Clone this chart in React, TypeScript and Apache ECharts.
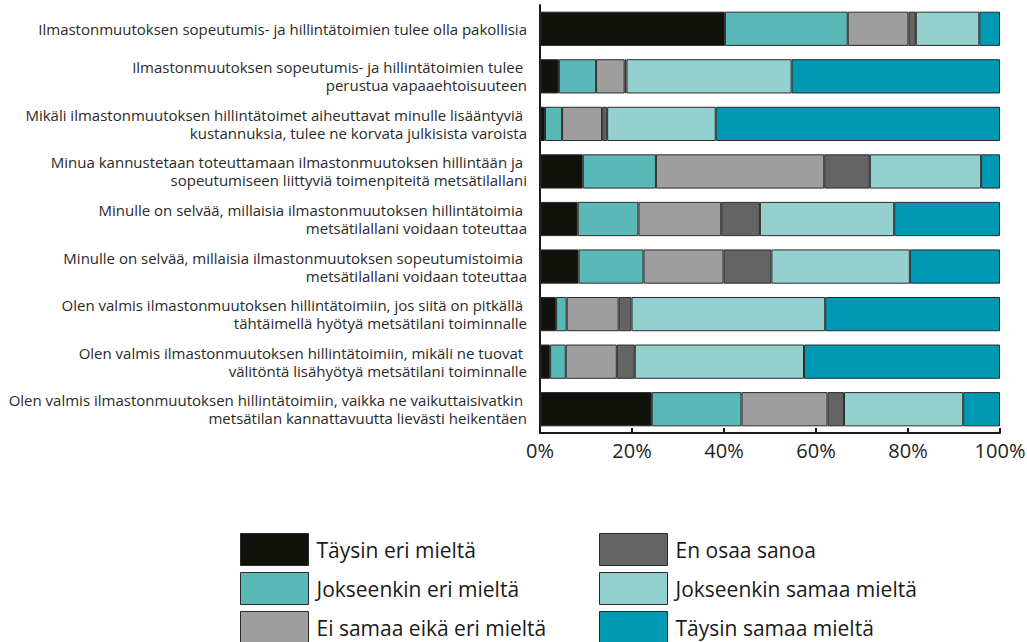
import React, { useEffect, useRef } from "react";
import * as echarts from "echarts";

const categories = [
  "Ilmastonmuutoksen sopeutumis- ja hillintätoimien tulee olla pakollisia",
  "Ilmastonmuutoksen sopeutumis- ja hillintätoimien tulee \nperustua vapaaehtoisuuteen",
  "Mikäli ilmastonmuutoksen hillintätoimet aiheuttavat minulle lisääntyviä \nkustannuksia, tulee ne korvata julkisista varoista",
  "Minua kannustetaan toteuttamaan ilmastonmuutoksen hillintään ja \nsopeutumiseen liittyviä toimenpiteitä metsätilallani",
  "Minulle on selvää, millaisia ilmastonmuutoksen hillintätoimia \nmetsätilallani voidaan toteuttaa",
  "Minulle on selvää, millaisia ilmastonmuutoksen sopeutumistoimia \nmetsätilallani voidaan toteuttaa",
  "Olen valmis ilmastonmuutoksen hillintätoimiin, jos siitä on pitkällä \ntähtäimellä hyötyä metsätilani toiminnalle",
  "Olen valmis ilmastonmuutoksen hillintätoimiin, mikäli ne tuovat \nvälitöntä lisähyötyä metsätilani toiminnalle",
  "Olen valmis ilmastonmuutoksen hillintätoimiin, vaikka ne vaikuttaisivatkin \nmetsätilan kannattavuutta lievästi heikentäen",
];

const seriesNames = [
  "Täysin eri mieltä",
  "Jokseenkin eri mieltä",
  "Ei samaa eikä eri mieltä",
  "En osaa sanoa",
  "Jokseenkin samaa mieltä",
  "Täysin samaa mieltä",
];

const taysinEri = [40.2, 4.1, 1.1, 9.3, 8.2, 8.4, 3.5, 2.2, 24.3];
const jokseenkinEri = [26.7, 8.1, 3.7, 15.9, 13.2, 14.1, 2.3, 3.4, 19.5];
const eiSamaaEikaEri = [13.2, 6.2, 8.7, 36.6, 18.0, 17.4, 11.3, 11.1, 18.7];
const enOsaaSanoa = [1.6, 0.4, 1.1, 9.9, 8.4, 10.4, 2.8, 3.9, 3.6];
const jokseenkinSamaa = [13.8, 35.9, 23.6, 24.2, 29.2, 30.1, 42.1, 36.8, 25.9];
const taysinSamaa = [4.5, 45.3, 61.8, 4.1, 23.0, 19.6, 38.0, 42.6, 8.0];

const seriesValues = [taysinEri, jokseenkinEri, eiSamaaEikaEri, enOsaaSanoa, jokseenkinSamaa, taysinSamaa];
const colors = ["#12120d", "#5bb8b8", "#9d9e9d", "#636463", "#93d0cf", "#0099b3"];

const xTicks = [0, 20, 40, 60, 80, 100];

export default function App() {
  const ref = useRef<HTMLDivElement>(null);
  useEffect(() => {
    if (!ref.current) return;
    const chart = echarts.init(ref.current, null, { renderer: "svg" });
    const font = "'Open Sans', sans-serif";
    const legendCommon = {
      orient: "vertical",
      icon: "rect",
      itemWidth: 68,
      itemHeight: 32,
      itemGap: 6,
      padding: 0,
      height: 300,
      selectedMode: false,
      textStyle: { fontSize: 21, color: "#1a1a1a", fontFamily: font, padding: [0, 0, 0, 3] },
      itemStyle: { borderColor: "#2a2a2a", borderWidth: 1 },
    };
    chart.setOption({
      animation: false,
      textStyle: { fontFamily: font },
      grid: { left: 540, right: 27, top: 5, bottom: 209, containLabel: false, outerBoundsMode: "none" },
      legend: [
        { ...legendCommon, left: 240, top: 533, data: seriesNames.slice(0, 3) },
        { ...legendCommon, left: 599, top: 533, data: seriesNames.slice(3, 6) },
      ],
      xAxis: {
        type: "value",
        min: xTicks[0],
        max: xTicks[xTicks.length - 1],
        interval: 20,
        splitLine: { show: false },
        axisLine: { show: true, lineStyle: { color: "#1a1a1a", width: 2 } },
        axisTick: { show: true, inside: true, length: 5, lineStyle: { color: "#1a1a1a", width: 2 } },
        axisLabel: { formatter: "{value}%", fontSize: 20, color: "#222", fontFamily: font, margin: 7 },
      },
      yAxis: {
        type: "category",
        inverse: true,
        data: categories,
        axisLine: { show: true, lineStyle: { color: "#1a1a1a", width: 2 } },
        axisTick: { show: false },
        axisLabel: { fontSize: 15, color: "#2a2a2a", fontFamily: font, margin: 13, lineHeight: 18, align: "right" },
      },
      series: seriesNames.map((name, i) => ({
        name,
        type: "bar",
        stack: "total",
        barWidth: "72%",
        data: seriesValues[i],
        itemStyle: { color: colors[i], borderColor: "#2a2a2a", borderWidth: 1 },
      })),
    });
    return () => chart.dispose();
  }, []);
  return <div ref={ref} style={{ width: 1027, height: 642, position: "absolute", left: 0, top: 0 }} />;
}
